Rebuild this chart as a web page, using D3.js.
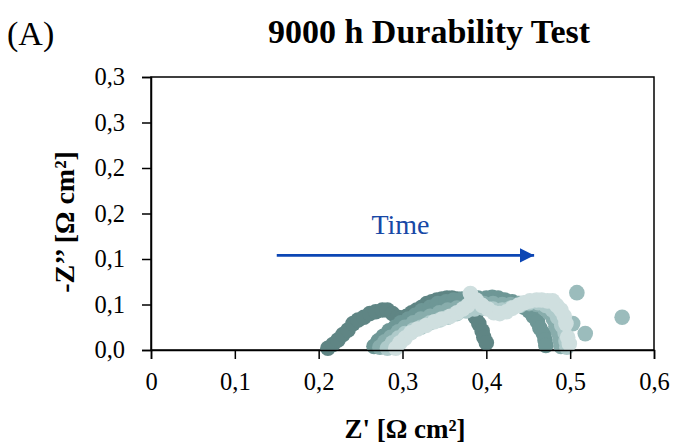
<!DOCTYPE html>
<html>
<head>
<meta charset="utf-8">
<script src="https://cdn.jsdelivr.net/npm/d3@7"></script>
<style>
  html, body { margin: 0; padding: 0; background: #fff; }
  svg { display: block; }
  text { font-family: "Liberation Serif", "Times New Roman", serif; }
</style>
</head>
<body>
<div id="chart"></div>
<script>
// ---------- DATA ----------
const chartTitle = "9000 h Durability Test";
const panelLabel = "(A)";
const xTickValues = [0, 0.1, 0.2, 0.3, 0.4, 0.5, 0.6];
const xTickLabels = ["0", "0,1", "0,2", "0,3", "0,4", "0,5", "0,6"];
const yTickValues = [0, 0.05, 0.10, 0.15, 0.20, 0.25, 0.30];
const yTickLabels = ["0,0", "0,1", "0,1", "0,2", "0,2", "0,3", "0,3"];

// Z' (Ohm cm2) and -Z'' (Ohm cm2) for each measurement over time
const s1Re = [0.211,0.217,0.223,0.229,0.235,0.241,0.247,0.254,0.261,0.268,0.276,0.282,0.288,0.294,0.299,0.305,0.311,0.317,0.323,0.329,0.335,0.341,0.347,0.353,0.359,0.365,0.371,0.377,0.382,0.387,0.391,0.395,0.397,0.400];
const s1Im = [0.002,0.006,0.011,0.017,0.022,0.029,0.033,0.036,0.040,0.042,0.044,0.044,0.040,0.036,0.035,0.037,0.041,0.044,0.047,0.051,0.053,0.055,0.056,0.057,0.057,0.056,0.054,0.050,0.043,0.036,0.029,0.021,0.014,0.008];

const s2Re = [0.266,0.271,0.277,0.284,0.291,0.298,0.307,0.315,0.323,0.333,0.342,0.352,0.361,0.371,0.380,0.390,0.400,0.407,0.414,0.422,0.431,0.438,0.445,0.451,0.456,0.461,0.464,0.468,0.470,0.471];
const s2Im = [0.004,0.010,0.015,0.021,0.025,0.030,0.034,0.038,0.043,0.047,0.051,0.053,0.055,0.056,0.057,0.057,0.057,0.058,0.057,0.055,0.053,0.051,0.047,0.043,0.037,0.031,0.024,0.018,0.011,0.005];

const s3Re = [0.273,0.279,0.286,0.295,0.303,0.313,0.322,0.333,0.344,0.354,0.365,0.376,0.386,0.397,0.408,0.419,0.429,0.440,0.451,0.460,0.469,0.475,0.480,0.483,0.486,0.488,0.489];
const s3Im = [0.003,0.009,0.014,0.020,0.025,0.030,0.034,0.037,0.041,0.044,0.046,0.048,0.049,0.051,0.051,0.050,0.050,0.051,0.051,0.050,0.046,0.041,0.034,0.026,0.019,0.011,0.004];

const s4Re = [0.282,0.288,0.295,0.303,0.313,0.322,0.333,0.344,0.354,0.365,0.376,0.386,0.397,0.408,0.419,0.429,0.440,0.451,0.462,0.471,0.479,0.485,0.490,0.494,0.495,0.496];
const s4Im = [0.002,0.008,0.013,0.018,0.022,0.025,0.030,0.033,0.036,0.040,0.043,0.045,0.046,0.045,0.044,0.046,0.049,0.052,0.052,0.049,0.044,0.036,0.027,0.019,0.010,0.003];

const s5Re = [0.292,0.297,0.303,0.310,0.318,0.328,0.338,0.347,0.357,0.365,0.372,0.378,0.383,0.381,0.388,0.395,0.402,0.409,0.416,0.424,0.431,0.438,0.445,0.452,0.460,0.466,0.473,0.479,0.484,0.489,0.493,0.495,0.497,0.499];
const s5Im = [0.002,0.008,0.013,0.019,0.023,0.027,0.031,0.034,0.037,0.041,0.045,0.049,0.054,0.062,0.055,0.049,0.045,0.041,0.040,0.042,0.046,0.049,0.052,0.054,0.055,0.055,0.054,0.054,0.049,0.044,0.037,0.029,0.014,0.007];

const s6Re = [0.508, 0.562, 0.503, 0.518];
const s6Im = [0.063, 0.036, 0.029, 0.018];

const seriesColors = ["#5f8584", "#6e9796", "#88adac", "#aecaca", "#cfdfdf", "#9bbcbc"];
const seriesRe = [s1Re, s2Re, s3Re, s4Re, s6Re, s5Re];
const seriesIm = [s1Im, s2Im, s3Im, s4Im, s6Im, s5Im];
const seriesColorOrder = [0, 1, 2, 3, 5, 4];

const arrowX = [0.15, 0.457];
const arrowY = 0.104;
const arrowLabel = "Time";

// ---------- LAYOUT ----------
const W = 673, H = 446;
const margin = { left: 151, right: 19, top: 77, bottom: 96 };
const pw = W - margin.left - margin.right;
const ph = H - margin.top - margin.bottom;

const svg = d3.select("#chart").append("svg").attr("width", W).attr("height", H);

const x = d3.scaleLinear().domain([0, 0.6]).range([margin.left, margin.left + pw]);
const y = d3.scaleLinear().domain([0, 0.3]).range([margin.top + ph, margin.top]);

// frame
svg.append("rect")
  .attr("x", margin.left).attr("y", margin.top)
  .attr("width", pw).attr("height", ph)
  .attr("fill", "none").attr("stroke", "#000").attr("stroke-width", 1.5);

// data points
const g = svg.append("g");
seriesRe.forEach((re, i) => {
  const im = seriesIm[i];
  const col = seriesColors[seriesColorOrder[i]];
  g.selectAll(null).data(re.map((v, k) => [v, im[k]])).enter()
    .append("circle")
    .attr("cx", d => x(d[0]))
    .attr("cy", d => y(d[1]))
    .attr("r", 7.8)
    .attr("fill", col);
});

// axes
const xAxis = d3.axisBottom(x).tickValues(xTickValues)
  .tickFormat((d, i) => xTickLabels[i]).tickSize(9).tickPadding(14);
const yAxis = d3.axisLeft(y).tickValues(yTickValues)
  .tickFormat((d, i) => yTickLabels[i]).tickSize(9).tickPadding(17);

const gx = svg.append("g").attr("transform", `translate(0,${margin.top + ph})`).call(xAxis);
const gy = svg.append("g").attr("transform", `translate(${margin.left},0)`).call(yAxis);
[gx, gy].forEach(ax => {
  ax.select(".domain").attr("stroke", "#000").attr("stroke-width", 1.5);
  ax.selectAll(".tick line").attr("stroke", "#000").attr("stroke-width", 1.5);
  ax.selectAll(".tick text").attr("fill", "#000")
    .style("font-family", '"Liberation Serif", serif').style("font-size", "24.5px");
});

// arrow
svg.append("defs").append("marker")
  .attr("id", "ah").attr("viewBox", "0 0 10 10")
  .attr("refX", 10).attr("refY", 5)
  .attr("markerWidth", 5.2).attr("markerHeight", 5.2)
  .attr("markerUnits", "strokeWidth").attr("orient", "auto")
  .append("path").attr("d", "M0,0 L10,5 L0,10 Z").attr("fill", "#0c46b4");

svg.append("line")
  .attr("x1", x(arrowX[0])).attr("x2", x(arrowX[1]))
  .attr("y1", y(arrowY)).attr("y2", y(arrowY))
  .attr("stroke", "#0c46b4").attr("stroke-width", 2.8)
  .attr("marker-end", "url(#ah)");

svg.append("text")
  .attr("x", x((arrowX[0] + arrowX[1]) / 2) - 5).attr("y", 234)
  .attr("text-anchor", "middle").attr("fill", "#1748a6")
  .style("font-size", "28px").text(arrowLabel);

// titles
svg.append("text").attr("x", 429).attr("y", 43).attr("text-anchor", "middle")
  .style("font-size", "34px").style("font-weight", "bold").text(chartTitle);
svg.append("text").attr("x", 7).attr("y", 45)
  .style("font-size", "34px").text(panelLabel);

svg.append("text").attr("x", 405).attr("y", 438).attr("text-anchor", "middle")
  .style("font-size", "27px").style("font-weight", "bold").text("Z' [Ω cm²]");

svg.append("text").attr("transform", "translate(74,222) rotate(-90)")
  .attr("text-anchor", "middle")
  .style("font-size", "28px").style("font-weight", "bold").text("-Z’’ [Ω cm²]");
</script>
</body>
</html>
